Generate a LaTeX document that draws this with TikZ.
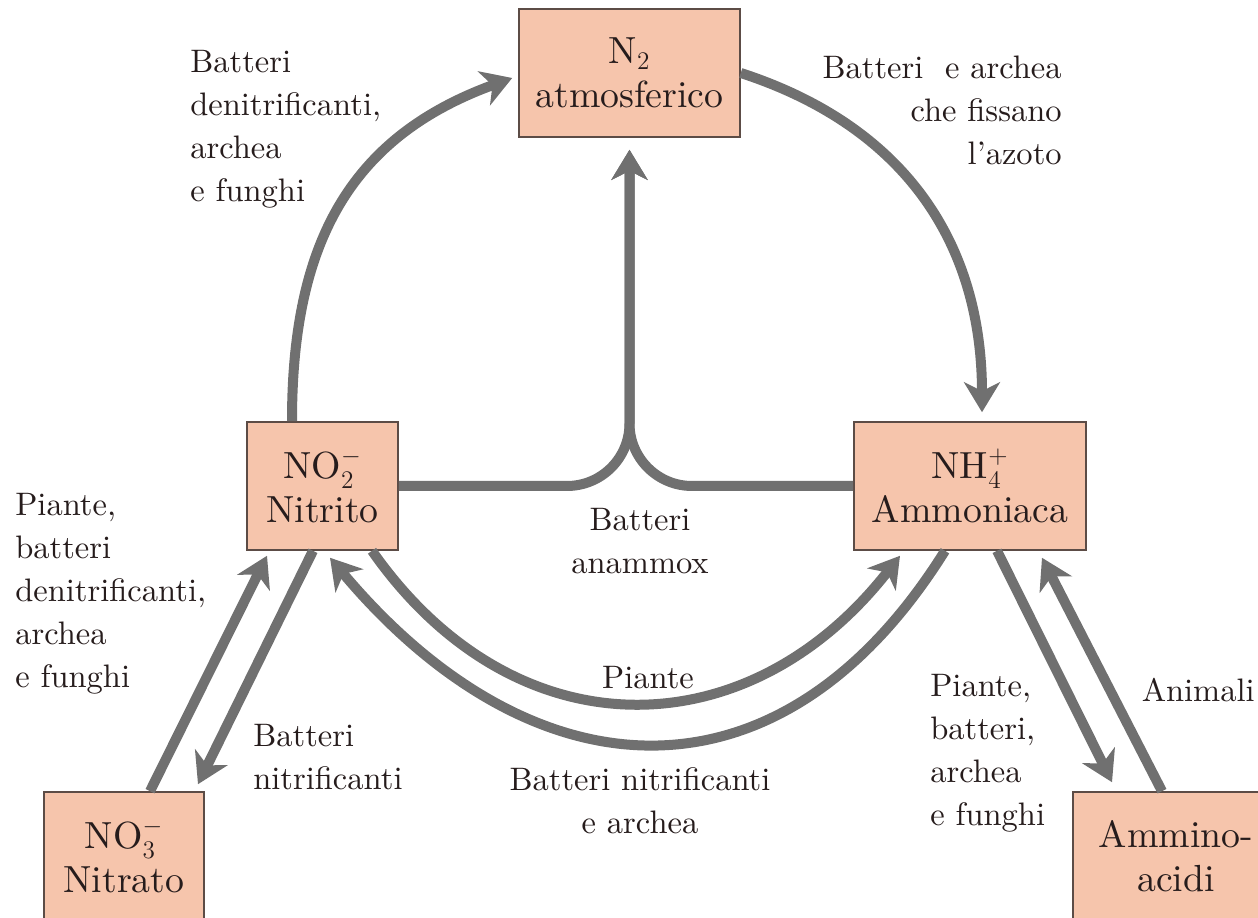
\documentclass[tikz,border=0pt]{standalone}
\usepackage{amsmath,amssymb}
\usepackage{fontspec}
\setmainfont{lmroman10-regular.otf}
\usepackage{tikz}
\usetikzlibrary{arrows.meta}

\definecolor{boxfill}{RGB}{246,197,172}
\definecolor{boxline}{RGB}{92,76,70}
\definecolor{flowgray}{RGB}{112,112,112}
\definecolor{inkdark}{RGB}{38,28,28}

\begin{document}
\begin{tikzpicture}[
    box/.style={draw=boxline, line width=0.9pt, fill=boxfill, text=inkdark, align=center,
      minimum height=2.56cm, inner sep=0pt, font=\fontsize{21.5}{25}\selectfont},
    flow/.style={draw=flowgray, line width=0.2cm,
      -{Stealth[length=0.6cm, width=0.72cm, inset=0.18cm]}},
    lbl/.style={text=inkdark, inner sep=0pt, font=\fontsize{18.5}{24.5}\selectfont}]
      % Frame of the page
      \useasboundingbox (0,0) rectangle (25.16,18.36);
      \clip (0,0) rectangle (25.16,18.36);

      % Define coordinates
      \coordinate (n2_pos) at (12.59, 16.90);
      \coordinate (nitrito_pos) at (6.45, 8.64);
      \coordinate (ammonio_pos) at (19.40, 8.64);
      \coordinate (nitrato_pos) at (2.48, 1.24);
      \coordinate (ammino_pos) at (23.52, 1.24);

      % Draw the boxes
      \node[box, minimum width=4.42cm] (N2) at (n2_pos) {N$_2$\\atmosferico};
      \node[box, minimum width=3.02cm] (NO2) at (nitrito_pos) {NO$_2^-$\\Nitrito};
      \node[box, minimum width=4.64cm] (NH4) at (ammonio_pos) {NH$_4^+$\\Ammoniaca};
      \node[box, minimum width=3.20cm] (NO3) at (nitrato_pos) {NO$_3^-$\\Nitrato};
      \node[box, minimum width=4.12cm] (AA) at (ammino_pos) {Ammino-\\acidi};

      % Draw the big circle: denitrification and fixation
      \draw[flow] ([xshift=-0.61cm]NO2.north) to[out=90, in=200, looseness=1.1]
        ([xshift=-0.12cm, yshift=-0.10cm]N2.west);
      \draw[flow] (N2.east) to[out=-18, in=90, looseness=1.05]
        ([xshift=0.24cm, yshift=0.18cm]NH4.north);

      % Draw the anammox branch
      \draw[flow, rounded corners=1.25cm] (NO2.east) -| ([yshift=-0.24cm]N2.south);
      \draw[flow, rounded corners=1.25cm] (NH4.west) -| ([yshift=-0.24cm]N2.south);

      % Draw the two arcs between nitrite and ammonium
      \draw[flow] ([xshift=0.99cm]NO2.south) to[out=-55, in=-128, looseness=1.2]
        ([xshift=-1.40cm, yshift=-0.10cm]NH4.south);
      \draw[flow] ([xshift=-0.50cm]NH4.south) to[out=-122, in=-50, looseness=1.3]
        ([xshift=0.15cm, yshift=-0.14cm]NO2.south);

      % Draw the straight pairs
      \draw[flow] ([xshift=0.52cm]NO3.north) -- ([xshift=-1.11cm, yshift=-0.10cm]NO2.south);
      \draw[flow] ([xshift=-0.19cm]NO2.south) -- ([xshift=1.48cm, yshift=0.14cm]NO3.north);
      \draw[flow] ([xshift=0.54cm]NH4.south) -- ([xshift=-1.28cm, yshift=0.18cm]AA.north);
      \draw[flow] ([xshift=-0.28cm]AA.north) -- ([xshift=1.44cm, yshift=-0.14cm]NH4.south);

      % Labels
      \node[lbl, anchor=west, align=left] (l_denit) at (3.80, 15.78)
        {Batteri\\denitrificanti,\\archea\\e funghi};
      \node[lbl, anchor=east, align=right] (l_fix) at (21.24, 16.16)
        {Batteri\ \ e archea\\che fissano\\l'azoto};
      \node[lbl, align=center] (l_anammox) at (12.80, 7.54) {Batteri\\anammox};
      \node[lbl, anchor=west, align=left] (l_rid) at (0.30, 6.48)
        {Piante,\\batteri\\denitrificanti,\\archea\\e funghi};
      \node[lbl, anchor=west, align=left] (l_nitr) at (5.06, 3.22) {Batteri\\nitrificanti};
      \node[lbl] (l_piante) at (12.96, 4.80) {Piante};
      \node[lbl, align=center] (l_nitr_arc) at (12.80, 2.34) {Batteri nitrificanti\\e archea};
      \node[lbl, anchor=west, align=left] (l_amm) at (18.60, 3.30)
        {Piante,\\batteri,\\archea\\e funghi};
      \node[lbl, anchor=east] (l_animali) at (25.10, 4.56) {Animali};
    \end{tikzpicture}
\end{document}
